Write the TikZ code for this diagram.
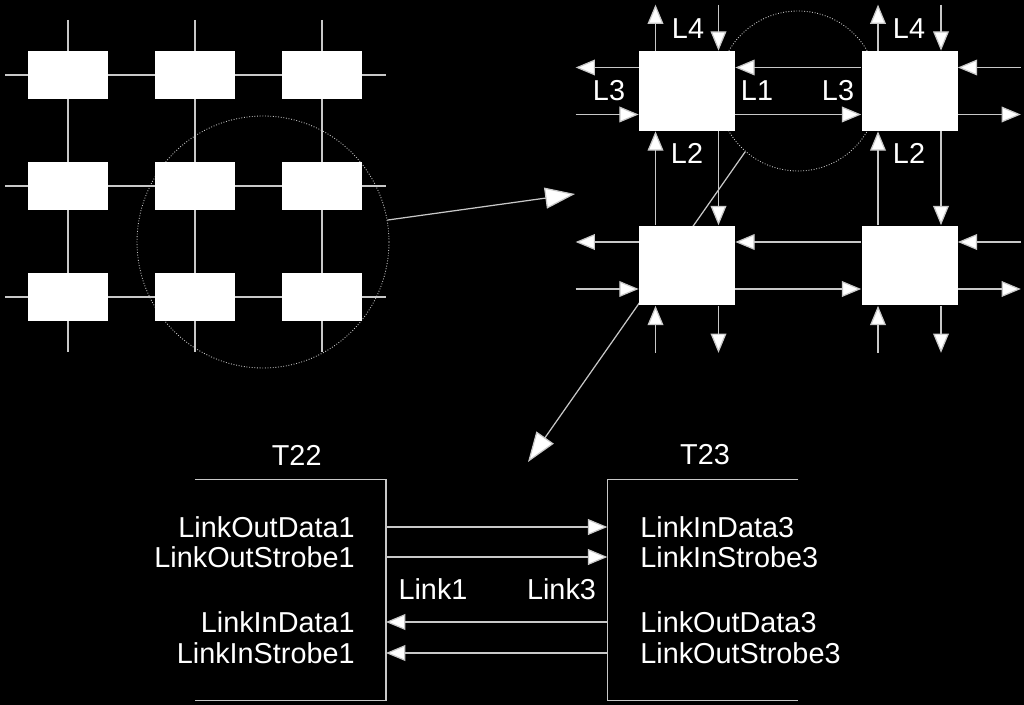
\documentclass[tikz,border=0pt]{standalone}
\usepackage{fontspec}
\setmainfont{Liberation Sans}
\usetikzlibrary{arrows.meta,calc}
\definecolor{wiregray}{RGB}{200,200,200}

\begin{document}
\begin{tikzpicture}[x=0.02cm,y=-0.02cm,
  font=\fontsize{16.4}{19}\selectfont, text=white,
  wire/.style={draw=wiregray, line width=0.7pt},
  sig/.style={wire, -{Triangle[length=11pt,width=9pt,fill=white]}},
  zoomarrow/.style={wire, -{Triangle[length=17pt,width=12pt,fill=white]}},
  zoomring/.style={circle, draw=wiregray, densely dotted, line width=0.5pt, inner sep=0pt},
  cell/.style={fill=white, inner sep=0pt, minimum width=1.6cm, minimum height=0.96cm},
  tile/.style={fill=white, inner sep=0pt, minimum width=1.92cm, minimum height=1.6cm},
  chip/.style={inner sep=0pt, minimum width=3.81cm, minimum height=4.41cm},
  pin/.style={inner sep=0pt}]
\fill[black] (0,0) rectangle (1024,705);

% zoom rings and pointers
\node[zoomring, minimum size=5.04cm] (zoomA) at (263,242) {};
\node[zoomring, minimum size=3.2cm] (zoomB) at (798,91) {};
\coordinate (tipA) at (575,194);
\coordinate (tipB) at (528,462);
\draw[zoomarrow] (zoomA.10.5) -- (tipA);
\draw[zoomarrow] (zoomB.229.5) -- (tipB);

% mesh of transputers
\foreach \r/\y in {1/75,2/186,3/297}
  \foreach \c/\x in {1/68,2/195,3/322}
    \node[cell] (g\r\c) at (\x,\y) {};
\foreach \r/\y in {1/75,2/186,3/297} {
  \coordinate (w\r) at (5,\y);
  \coordinate (e\r) at (386,\y);
  \draw[wire] (w\r) -- (g\r1) -- (g\r2) -- (g\r3) -- (e\r);
}
\foreach \c/\x in {1/68,2/195,3/322} {
  \coordinate (n\c) at (\x,20);
  \coordinate (s\c) at (\x,352);
  \draw[wire] (n\c) -- (g1\c) -- (g2\c) -- (g3\c) -- (s\c);
}

% four tiles with links
\node[tile] (tl) at (687,91) {};
\node[tile] (tr) at (909.5,91) {};
\node[tile] (bl) at (687,265.5) {};
\node[tile] (br) at (909.5,265.5) {};

\foreach \b in {tl,tr} {
  \coordinate (\b-up) at ([shift={(-31.5,-46)}]\b.north);
  \coordinate (\b-dn) at ([shift={(31.5,-46)}]\b.north);
  \draw[sig] (\b-up |- \b.north) -- (\b-up);
  \draw[sig] (\b-dn) -- (\b-dn |- \b.north);
}
\foreach \b in {bl,br} {
  \coordinate (\b-up) at ([shift={(-31.5,47)}]\b.south);
  \coordinate (\b-dn) at ([shift={(31.5,47)}]\b.south);
  \draw[sig] (\b-up) -- (\b-up |- \b.south);
  \draw[sig] (\b-dn |- \b.south) -- (\b-dn);
}
\foreach \b in {tl,bl} {
  \coordinate (\b-lo) at ([shift={(-63,-23.5)}]\b.west);
  \coordinate (\b-li) at ([shift={(-63,23.5)}]\b.west);
  \draw[sig] (\b-lo -| \b.west) -- (\b-lo);
  \draw[sig] (\b-li) -- (\b-li -| \b.west);
}
\foreach \b in {tr,br} {
  \coordinate (\b-ri) at ([shift={(63,-23.5)}]\b.east);
  \coordinate (\b-ro) at ([shift={(63,23.5)}]\b.east);
  \draw[sig] (\b-ri) -- (\b-ri -| \b.east);
  \draw[sig] (\b-ro -| \b.east) -- (\b-ro);
}
\foreach \l/\r in {tl/tr,bl/br} {
  \draw[sig] ([yshift=4.7mm]\r.west) -- ([yshift=4.7mm]\l.east);
  \draw[sig] ([yshift=-4.7mm]\l.east) -- ([yshift=-4.7mm]\r.west);
}
\foreach \t/\u in {tl/bl,tr/br} {
  \draw[sig] ([xshift=-6.3mm]\u.north) -- ([xshift=-6.3mm]\t.south);
  \draw[sig] ([xshift=6.3mm]\t.south) -- ([xshift=6.3mm]\u.north);
}

\node (l4a) at (688,29) {L4};
\node (l4b) at (909,29) {L4};
\node (l3a) at (609,91) {L3};
\node (l1)  at (757,91) {L1};
\node (l3b) at (838,91) {L3};
\node (l2a) at (687,153) {L2};
\node (l2b) at (909,153) {L2};

% link detail
\node[chip] (t22) at (290.4,589.7) {};
\node[chip] (t23) at (702.9,589.7) {};
\draw[wire] (t22.north west) -- (t22.north east) -- (t22.south east) -- (t22.south west);
\draw[wire] (t23.north east) -- (t23.north west) -- (t23.south west) -- (t23.south east);
\node (t22name) at (296.7,455) {T22};
\node (t23name) at (705,455) {T23};

\node[pin, anchor=east] (od1) at (355,527) {LinkOutData1};
\node[pin, anchor=east] (os1) at (355,557) {LinkOutStrobe1};
\node[pin, anchor=east] (id1) at (355,622) {LinkInData1};
\node[pin, anchor=east] (is1) at (355,653) {LinkInStrobe1};
\node[pin, anchor=west] (id3) at (640,527) {LinkInData3};
\node[pin, anchor=west] (is3) at (640,557) {LinkInStrobe3};
\node[pin, anchor=west] (od3) at (640,622) {LinkOutData3};
\node[pin, anchor=west] (os3) at (640,653) {LinkOutStrobe3};
\node (link1) at (433,589) {Link1};
\node (link3) at (561.5,589) {Link3};

\draw[sig] (t22.east |- od1) -- (t23.west |- od1);
\draw[sig] (t22.east |- os1) -- (t23.west |- os1);
\draw[sig] (t23.west |- id1) -- (t22.east |- id1);
\draw[sig] (t23.west |- is1) -- (t22.east |- is1);
\end{tikzpicture}
\end{document}
